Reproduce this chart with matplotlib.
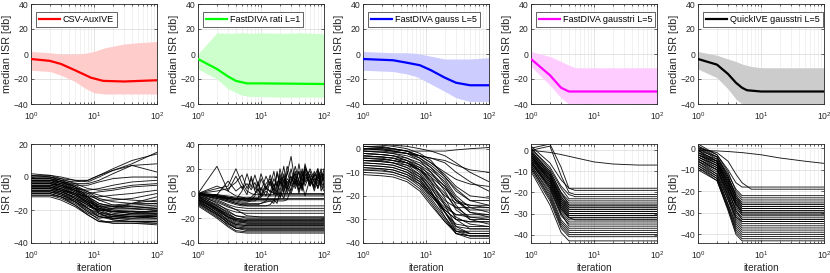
import matplotlib
matplotlib.use("Agg")
import matplotlib.pyplot as plt

plt.rcParams['font.family'] = ['Liberation Sans', 'DejaVu Sans']
plt.rcParams['mathtext.fontset'] = 'custom'
plt.rcParams['mathtext.rm'] = 'Liberation Sans'
plt.rcParams['mathtext.it'] = 'Liberation Sans'

# ---------------- data ----------------
method_names = ["CSV-AuxIVE", "FastDIVA rati L=1", "FastDIVA gauss L=5",
                "FastDIVA gausstri L=5", "QuickIVE gausstri L=5"]
line_colors = ["#ff0000", "#00ff00", "#0000ff", "#ff00ff", "#000000"]
band_colors = ["#ffcccc", "#ccffcc", "#ccccff", "#ffccff", "#cccccc"]

# top row: median ISR and band
med_x = [
    [1, 2, 3, 5, 9, 14, 30, 100],
    [1, 2, 3, 4, 6, 10, 100],
    [1, 3, 5, 8, 12, 20, 30, 50, 100],
    [1, 2, 3, 4, 100],
    [1, 2, 3, 4, 5, 6, 10, 100],
]
med_y = [
    [-4, -5.5, -8, -13, -19, -21.5, -22, -21],
    [-4, -12, -18, -21.5, -23.5, -23.5, -24],
    [-4, -5, -7, -9, -13, -19, -23, -25, -25],
    [-4, -17, -27, -30, -30],
    [-4, -8.5, -16, -23, -27, -29, -30, -30],
]
band_x = [
    [1, 2, 3, 5, 7, 10, 15, 30, 50, 100],
    [1, 2, 3, 5, 7, 10, 20, 40, 70, 100],
    [1, 3, 5, 7, 10, 20, 30, 50, 70, 100],
    [1, 2, 3, 4, 5, 7, 10, 30, 70, 100],
    [1, 2, 3, 4, 5, 7, 10, 30, 70, 100],
]
band_hi = [
    [2, 1, 0, 0, 0.5, 2, 5, 8, 9, 10],
    [0, 17, 16.5, 17, 16.5, 17, 16.5, 17, 16.5, 16],
    [2, 1, 1, 0.5, -1, -4, -4, -4, -3.5, -3],
    [2, -2, -6, -9, -11, -11, -11, -11, -11, -11],
    [2, -1, -4, -6, -8, -10, -11, -11, -11, -11],
]
band_lo = [
    [-13, -14, -17, -22, -27, -31, -32, -32, -32, -32],
    [-12, -20, -28, -33, -34, -34, -34.5, -34.5, -34.5, -34.5],
    [-13, -14, -16, -18, -22, -30, -35, -38, -38, -38],
    [-10, -25, -35, -40, -40, -40, -40, -40, -40, -40],
    [-12, -19, -28, -36, -40, -40, -40, -40, -40, -40],
]

# bottom row: individual ISR trajectories
traj1_x = [1, 2, 3, 5, 8, 12, 20, 40, 100]
traj1 = [
    [1, 0, -2, -6, -12, -18, -21, -22, -22],
    [-2, -2, -4, -8, -14, -19, -22, -23, -23],
    [-4, -4, -6, -10, -16, -21, -24, -25, -25],
    [-6, -6, -8, -13, -19, -24, -26, -27, -27],
    [-8, -8, -10, -15, -21, -26, -28, -28, -29],
    [-10, -10, -12, -17, -23, -27, -28, -28, -28],
    [-3, -3, -5, -8, -12, -16, -18, -19, -20],
    [-5, -5, -7, -11, -15, -18, -19, -19, -18],
    [0, 0, -2, -5, -9, -13, -15, -16, -16],
    [-1, -1, -3, -6, -9, -11, -13, -14, -15],
    [-7, -7, -9, -13, -17, -20, -21, -21, -21],
    [2, 1, 0, -2, -3, 0, 4, 8, 15],
    [0, 0, -1, -2, -2, 1, 5, 10, 14],
    [-1, -1, -2, -3, -2, 1, 4, 7, 8],
    [-2, -2, -3, -4, -4, -2, 2, 7, 3],
    [-3, -3, -4, -5, -5, -3, -1, 0, 0],
    [-4, -4, -5, -7, -8, -7, -5, -3, -2],
    [-5, -5, -6, -8, -10, -9, -8, -6, -5],
    [-6, -6, -8, -10, -12, -12, -11, -10, -8],
    [-9, -9, -11, -14, -18, -20, -19, -16, -12],
    [-11, -11, -13, -17, -22, -25, -24, -22, -20],
    [-12, -12, -14, -18, -23, -27, -27, -27, -27],
    [-2, -2, -4, -7, -11, -14, -14, -13, -10],
    [-8, -8, -9, -12, -16, -19, -20, -20, -19],
    [-4, -4, -6, -9, -13, -17, -20, -21, -22],
    [-6, -6, -7, -10, -14, -17, -17, -16, -14],
    [-3, -3, -5, -9, -14, -20, -23, -24, -24],
    [-7, -7, -9, -12, -17, -22, -25, -26, -26],
    [-5, -5, -7, -10, -15, -22, -26, -27, -28],
    [-9, -9, -11, -15, -20, -24, -25, -25, -24],
    [1, 1, -1, -4, -7, -8, -7, -5, -4],
    [-10, -10, -12, -15, -19, -22, -23, -23, -23],
    [-1, -1, -3, -7, -13, -19, -21, -21, -21],
    [-7, -7, -8, -11, -15, -18, -18, -17, -16],
    [-11, -11, -12, -16, -21, -24, -25, -24, -23],
    [-4, -4, -5, -8, -12, -16, -18, -18, -17],
    [-6, -6, -8, -11, -16, -21, -23, -24, -24],
    [-8, -8, -10, -14, -19, -23, -24, -24, -25],
    [-2, -2, -3, -6, -10, -14, -17, -18, -19],
    [-9, -9, -10, -13, -17, -20, -21, -22, -22],
]

traj2_x = [1, 2, 3, 4, 6, 10, 30, 100]
traj2 = [
    [0, -8, -14, -18, -20, -20, -20, -20],
    [-2, -12, -19, -23, -24, -24, -24, -24],
    [-4, -14, -22, -26, -27, -27, -27, -27],
    [-6, -16, -24, -28, -29, -29, -29, -29],
    [-8, -18, -26, -30, -31, -31, -31, -31],
    [-10, -20, -27, -31, -32, -32, -32, -32],
    [-1, -10, -16, -20, -22, -22, -22, -22],
    [-3, -11, -17, -21, -23, -23, -23, -23],
    [-5, -13, -20, -24, -25, -25, -25, -25],
    [-7, -15, -21, -25, -26, -26, -26, -26],
    [-2, -9, -13, -15, -16, -16, -16, -16],
    [0, -5, -9, -11, -12, -12, -12, -12],
    [-1, -4, -6, -8, -10, -10, -10, -10],
    [0, -2, -3, -4, -4, -5, -5, -5],
    [-3, -13, -19, -22, -23, -23, -23, -23],
    [-5, -16, -22, -25, -26, -26, -26, -26],
    [-9, -19, -25, -28, -28, -28, -28, -28],
    [-4, -12, -18, -22, -24, -24, -24, -24],
    [-6, -14, -19, -21, -22, -22, -22, -22],
    [-2, -7, -11, -13, -14, -14, -14, -14],
    [-1, -6, -10, -13, -18, -19, -19, -19],
    [-7, -17, -23, -27, -28, -28, -28, -28],
    [-3, -10, -15, -18, -19, -19, -19, -19],
    [-8, -17, -24, -28, -30, -30, -30, -30],
    [-5, -12, -17, -20, -21, -21, -21, -21],
]
noisy2_x = [1, 2, 3, 4, 5, 6, 7, 8, 9, 10, 12, 14, 16, 18, 20, 23, 26, 30,
            35, 40, 45, 50, 60, 70, 80, 90, 100]
noisy2 = [
    [0, 22, 2, -2, -3, -4, -4, -4, -4, -4, -4, -4, -4, -4, -4, -4, -4, -4, -4, -4, -4, -4, -4, -4, -4, -4, -4],
    [0, 4, 6, 20, 8, 2, 0, -1, -1, -1, -1, -1, -1, -1, -1, -1, -1, -1, -1, -1, -1, -1, -1, -1, -1, -1, -1],
    [0, 2, 4, 9, 15, 4, 12, 2, 0, -2, -2, -2, -2, -2, -2, -2, -2, -2, -2, -2, -2, -2, -2, -2, -2, -2, -2],
    [0, -2, -4, -5, 2, 16, 5, 15, 6, 16, 4, 2, 0, 0, 0, 0, 0, 0, 0, 0, 0, 0, 0, 0, 0, 0, 0],
    [0, -2, -4, -5, -6, -6, -5, -2, 8, 2, 14, 6, 18, 4, 20, 8, 22, 12, 16, 6, 20, 9, 14, 5, 18, 8, 20],
    [0, -3, -5, -6, -7, -7, -6, -6, -4, 5, -2, 10, 3, 16, 8, 14, 2, 20, 6, 24, 10, 18, 8, 16, 12, 20, 10],
    [0, -1, -3, -4, -4, -4, -3, 0, 4, -1, 8, 12, 0, 18, 6, 22, 4, 10, 16, 2, 14, 20, 6, 12, 4, 16, 14],
    [0, -2, -3, -4, -5, -5, -5, -4, -4, -3, 2, -2, 8, 0, 12, 6, 16, 30, 8, 18, 4, 22, 12, 6, 20, 2, 8],
    [0, -3, -6, -8, -9, -9, -9, -9, -9, -8, -6, 0, 4, -2, 10, 2, 8, 14, 4, 12, 18, 6, 16, 10, 6, 14, 12],
    [0, -4, -7, -9, -10, -10, -10, -10, -10, -10, -10, -9, -5, -8, 2, -4, 6, 0, 10, 3, 8, -2, 12, 4, 16, 6, 2],
    [0, -2, -5, -7, -8, -8, -8, -8, -8, -8, -7, -6, -8, 4, -3, 12, 0, 8, 22, 10, 2, 16, 6, 18, 10, 12, 16],
    [0, -1, -2, -3, -3, -3, -3, -3, -3, -2, 4, 10, -1, 6, 14, 0, 18, 6, 12, 0, 10, 24, 8, 14, 20, 10, 4],
    [0, -3, -4, -5, -5, -5, -5, -5, -5, -5, -5, -5, -5, -5, -4, 6, 10, 2, 14, 8, 4, 20, 14, 2, 12, 18, 6],
    [0, -2, -4, -5, -5, -6, -6, -6, -6, -6, -6, -6, -6, -6, -6, -6, -5, 4, 12, 6, 16, 10, 20, 12, 8, 16, 10],
    [0, 6, 2, 14, 4, 8, 3, 9, 1, 12, 3, 15, 5, 10, 2, 16, 6, 12, 8, 18, 5, 13, 9, 15, 4, 11, 13],
    [0, -1, 10, 2, 6, -1, 14, 3, 10, -2, 6, 1, 12, 6, 16, 4, 12, 8, 18, 10, 6, 14, 18, 8, 14, 6, 16],
]

traj3_x = [1, 2, 3, 5, 8, 12, 20, 30, 50, 100]
traj3 = [
    [2, 1.5, 1, 0, -2, -5, -12, -18, -22, -22],
    [1, 0.5, 0, -1, -4, -8, -15, -22, -26, -26],
    [0, -0.5, -1, -2, -5, -10, -18, -26, -30, -30],
    [-1, -1.5, -2, -4, -7, -12, -21, -30, -34, -34],
    [-2, -2.5, -3, -5, -8, -14, -24, -33, -36, -36],
    [-3, -3.5, -4, -6, -10, -16, -27, -35, -37, -37],
    [-4, -4.5, -5, -7, -11, -18, -29, -36, -38, -38],
    [-5, -5.5, -6, -8, -12, -18, -27, -33, -34, -34],
    [-6, -6.5, -7, -9, -13, -19, -26, -30, -31, -31],
    [-7, -7.5, -8, -10, -14, -20, -27, -32, -33, -33],
    [-8, -8.5, -9, -11, -15, -21, -29, -35, -36, -36],
    [-9, -9.5, -10, -12, -16, -22, -30, -36, -37, -37],
    [-10, -10.5, -11, -13, -17, -23, -31, -36, -37, -37],
    [-11, -11.5, -12, -14, -18, -24, -31, -35, -35, -35],
    [1, 0.5, 0, -1, -3, -6, -11, -16, -20, -21],
    [0, -0.5, -1, -2, -4, -7, -12, -17, -22, -24],
    [-1, -1.5, -2, -3, -5, -8, -13, -20, -25, -27],
    [-2, -2.5, -3, -4, -6, -9, -14, -21, -27, -29],
    [-3, -3.5, -4, -5, -7, -10, -16, -24, -30, -32],
    [-4, -4.5, -5, -6, -8, -11, -16, -22, -27, -28],
    [-5, -5.5, -6, -7, -9, -12, -17, -22, -24, -25],
    [0, 0, -1, -2, -3, -4, -6, -10, -14, -18],
    [-1, -1, -1.5, -2, -3, -4, -5, -7, -9, -10],
    [0, 0, -0.5, -1, -1, -1, -1, -0.5, 0, 0.5],
    [2, 2, 1.5, 1, 0, -1, -3, -6, -10, -14],
    [-6, -6.5, -7, -9, -12, -17, -24, -28, -29, -29],
    [-2, -2.5, -3, -5, -9, -15, -22, -25, -25, -25],
    [-7, -7.5, -8, -10, -13, -19, -27, -34, -36, -36],
    [-3, -3.5, -4, -6, -9, -14, -20, -23, -24, -24],
    [-8, -8.5, -9, -11, -14, -19, -25, -28, -28, -28],
    [-4, -4, -5, -6, -9, -13, -19, -25, -29, -30],
    [1, 1, 0, -1, -3, -6, -10, -13, -15, -16],
    [-5, -5, -6, -8, -11, -16, -23, -29, -32, -33],
    [-9, -9, -10, -12, -15, -20, -26, -30, -31, -31],
]

traj4_x = [1, 2, 3, 4, 5, 100]
traj4 = [
    [2, -6, -14, -18, -18, -18],
    [1, -8, -17, -21, -22, -22],
    [0, -10, -20, -24, -24, -24],
    [-1, -12, -22, -26, -26, -26],
    [-2, -13, -24, -28, -28, -28],
    [-3, -14, -25, -29, -29, -29],
    [-4, -16, -27, -31, -31, -31],
    [-5, -17, -29, -33, -33, -33],
    [-6, -19, -31, -35, -35, -35],
    [-7, -20, -33, -37, -37, -37],
    [-8, -22, -35, -39, -39, -39],
    [-9, -24, -37, -41, -41, -41],
    [-10, -26, -39, -43, -43, -43],
    [1, -9, -18, -23, -23, -23],
    [0, -11, -21, -25, -25, -25],
    [-1, -12, -23, -27, -27, -27],
    [-2, -14, -25, -30, -30, -30],
    [-3, -15, -26, -30, -30, -30],
    [-4, -15, -27, -32, -32, -32],
    [-5, -18, -30, -34, -34, -34],
    [-6, -18, -30, -36, -36, -36],
    [-2, -11, -22, -27, -27, -27],
    [-3, -13, -24, -29, -29, -29],
    [-1, -10, -20, -26, -26, -26],
    [0, 2, -12, -20, -21, -21],
    [1, 3, -8, -18, -19, -19],
    [-7, -21, -34, -38, -38, -38],
    [-8, -23, -36, -40, -40, -40],
    [-4, -14, -26, -31, -31, -31],
    [-5, -16, -28, -32, -33, -33],
    [-3, -12, -23, -28, -28, -28],
    [-6, -17, -28, -32, -32, -32],
]
slow4_x = [1, 2, 3, 5, 10, 20, 50, 100]
slow4 = [0, -1, -2, -3.5, -5.5, -6.5, -7, -7]

traj5_x = [1, 2, 3, 4, 5, 7, 100]
traj5 = [
    [2, -3, -10, -16, -18, -18, -18],
    [1, -4, -12, -19, -22, -22, -22],
    [0, -5, -14, -21, -24, -24, -24],
    [-1, -6, -16, -23, -26, -26, -26],
    [-2, -7, -18, -25, -28, -28, -28],
    [-3, -8, -19, -26, -29, -29, -29],
    [-4, -9, -20, -28, -31, -31, -31],
    [-5, -10, -22, -30, -33, -33, -33],
    [-6, -11, -23, -32, -35, -35, -35],
    [-7, -12, -24, -34, -37, -37, -37],
    [-8, -13, -26, -36, -39, -39, -39],
    [-9, -14, -28, -38, -41, -41, -41],
    [-10, -15, -29, -40, -43, -43, -43],
    [1, -3, -11, -20, -23, -23, -23],
    [0, -4, -13, -22, -25, -25, -25],
    [-1, -6, -15, -24, -27, -27, -27],
    [-2, -6, -17, -26, -30, -30, -30],
    [-3, -7, -17, -26, -30, -30, -30],
    [-4, -8, -19, -29, -32, -32, -32],
    [-5, -9, -21, -31, -34, -34, -34],
    [-6, -10, -22, -33, -36, -36, -36],
    [-2, -5, -14, -23, -27, -27, -27],
    [-3, -7, -16, -25, -29, -29, -29],
    [-1, -4, -13, -22, -26, -26, -26],
    [-7, -13, -26, -35, -38, -38, -38],
    [-8, -14, -27, -37, -40, -40, -40],
    [-4, -8, -18, -27, -31, -31, -31],
    [-5, -10, -20, -29, -33, -33, -33],
    [0, -2, -6, -12, -16, -19, -19],
    [-9, -15, -28, -39, -42, -42, -42],
    [-3, -6, -15, -24, -28, -28, -28],
    [-6, -12, -24, -32, -34, -34, -34],
]
slow5_x = [1, 2, 3, 5, 10, 20, 50, 100]
slow5 = [-1, -1.2, -1.5, -2, -3, -4.5, -6, -7]

bottom_ylim = [(-40, 20), (-40, 40), (-40, 2), (-44, 3), (-44, 2)]
bottom_yticks = [[-40, -20, 0, 20], [-40, -20, 0, 20, 40],
                 [-40, -30, -20, -10, 0], [-40, -30, -20, -10, 0],
                 [-40, -30, -20, -10, 0]]

# ---------------- figure ----------------
W, H = 830, 273
fig = plt.figure(figsize=(W / 100, H / 100), dpi=100)

col_left = [31, 198, 363, 531, 698]
col_width = 126
top_row = (4, 104)
bot_row = (144, 243)

axcol = '#262626'

def style(ax):
    ax.set_xscale('log')
    ax.set_xlim(1, 100)
    for s in ax.spines.values():
        s.set_color(axcol)
        s.set_linewidth(0.6)
    ax.tick_params(which='both', direction='in', top=True, right=True,
                   colors=axcol, labelsize=6.2, width=0.5)
    ax.tick_params(which='major', length=2.5)
    ax.tick_params(which='minor', length=1.5)
    ax.tick_params(axis='x', pad=4.5)
    ax.tick_params(axis='y', pad=2.0)
    ax.grid(True, which='major', color='#d9d9d9', linewidth=0.5)
    ax.grid(True, which='minor', axis='x', color='#ececec', linewidth=0.5)
    ax.set_axisbelow(True)

def make_ax(col, row):
    y0, y1 = row
    return fig.add_axes([col_left[col] / W, 1 - y1 / H, col_width / W, (y1 - y0) / H])

trajs = [(traj1_x, traj1), (traj2_x, traj2), (traj3_x, traj3),
         (traj4_x, traj4), (traj5_x, traj5)]

ylab_off = -19 / col_width
lw_t = 0.65

for i in range(5):
    ax = make_ax(i, top_row)
    style(ax)
    ax.fill_between(band_x[i], band_lo[i], band_hi[i], color=band_colors[i],
                    linewidth=0, zorder=1)
    ax.plot(med_x[i], med_y[i], color=line_colors[i], linewidth=1.6,
            label=method_names[i], zorder=3)
    ax.set_ylim(-40, 40)
    ax.set_yticks([-40, -20, 0, 20, 40])
    ax.set_ylabel('median ISR [db]', fontsize=7.8, color=axcol)
    ax.yaxis.set_label_coords(ylab_off, 0.5)
    leg = ax.legend(loc='upper left', fontsize=6.5, frameon=True, fancybox=False,
                    handlelength=2.4, borderpad=0.35, handletextpad=0.25,
                    borderaxespad=0.5, bbox_to_anchor=(0.0, 0.97))
    leg.get_frame().set_edgecolor(axcol)
    leg.get_frame().set_linewidth(0.5)
    leg.get_frame().set_alpha(1)

    ax2 = make_ax(i, bot_row)
    style(ax2)
    xs, ys = trajs[i]
    for y in ys:
        ax2.plot(xs, y, color='black', linewidth=lw_t, alpha=0.9)
    if i == 1:
        for y in noisy2:
            ax2.plot(noisy2_x, y, color='black', linewidth=lw_t, alpha=0.9)
    if i == 3:
        ax2.plot(slow4_x, slow4, color='black', linewidth=lw_t, alpha=0.9)
    if i == 4:
        ax2.plot(slow5_x, slow5, color='black', linewidth=lw_t, alpha=0.9)
    ax2.set_ylim(*bottom_ylim[i])
    ax2.set_yticks(bottom_yticks[i])
    ax2.set_ylabel('ISR [db]', fontsize=7.8, color=axcol)
    ax2.yaxis.set_label_coords(ylab_off, 0.5)
    ax2.set_xlabel('iteration', fontsize=7.2, color=axcol, labelpad=1.5)

fig.savefig('out.png', dpi=100)
